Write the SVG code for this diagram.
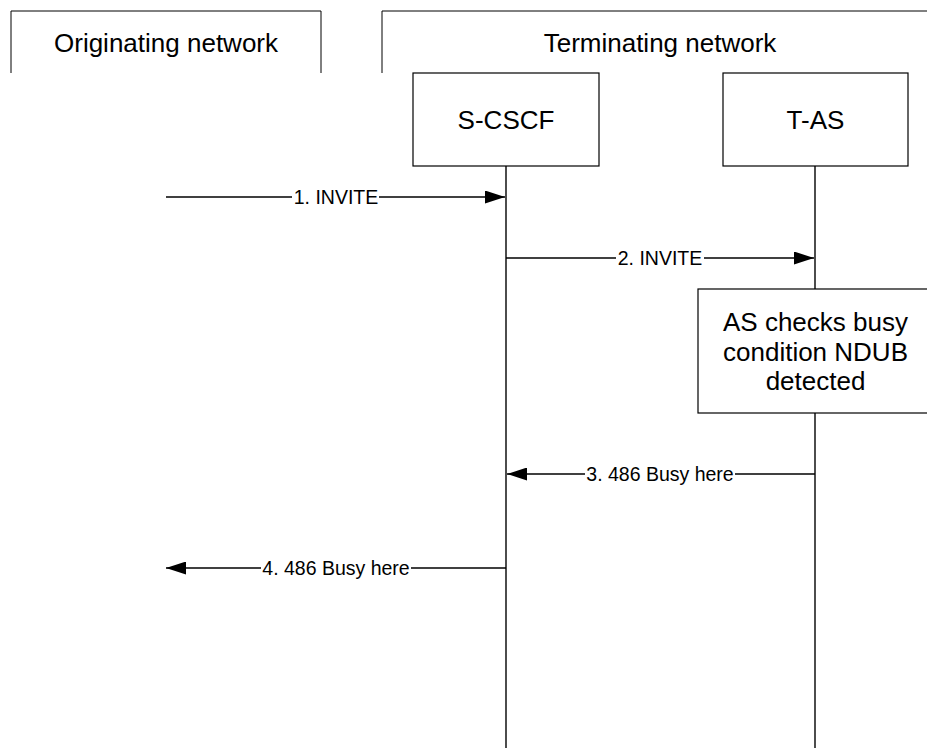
<svg xmlns="http://www.w3.org/2000/svg" width="927" height="748" viewBox="0 0 927 748">
  <defs>
    <style>
      .frame { fill: none; stroke: #000; stroke-width: 1; }
      .box { fill: #fff; stroke: #000; stroke-width: 1.2; }
      .life { stroke: #000; stroke-width: 1.4; }
      .msg { stroke: #000; stroke-width: 1.3; fill: none; }
      .big { font-family: "Liberation Sans", Arial, sans-serif; font-size: 26px; fill: #000; text-anchor: middle; }
      .lbl { font-family: "Liberation Sans", Arial, sans-serif; font-size: 19.5px; fill: #000; text-anchor: middle; }
      .mask { fill: #fff; }
    </style>
    <marker id="head" markerWidth="20" markerHeight="13" refX="20" refY="6.5" orient="auto" markerUnits="userSpaceOnUse">
      <path d="M0,0 L20,6.5 L0,13 Z" fill="#000"/>
    </marker>
  </defs>

  <rect width="927" height="748" fill="#fff"/>

  <!-- network frames (open at the bottom) -->
  <g id="originating-network">
    <path class="frame" d="M11,73 V11 H321 V73"/>
    <text class="big" x="166" y="52">Originating network</text>
  </g>
  <g id="terminating-network">
    <path class="frame" d="M382,73 V11 H930"/>
    <text class="big" x="660" y="52">Terminating network</text>
  </g>

  <!-- lifelines -->
  <g id="lifelines">
    <line class="life" x1="506" y1="166" x2="506" y2="748"/>
    <line class="life" x1="815" y1="166" x2="815" y2="748"/>
  </g>

  <g id="s-cscf">
    <rect class="box" x="413" y="73" width="186" height="93"/>
    <text class="big" x="506" y="129">S-CSCF</text>
  </g>
  <g id="t-as">
    <rect class="box" x="723" y="73" width="185" height="93"/>
    <text class="big" x="815.5" y="129">T-AS</text>
  </g>

  <g id="busy-check">
    <rect class="box" x="698" y="289" width="240" height="124"/>
    <text class="big" x="815.5" y="331">AS checks busy</text>
    <text class="big" x="815.5" y="360.5">condition NDUB</text>
    <text class="big" x="815.5" y="390">detected</text>
  </g>

  <!-- messages -->
  <g id="connectors">
    <line class="msg" x1="166" y1="197" x2="505" y2="197" marker-end="url(#head)"/>
    <rect class="mask" x="292" y="188" width="87" height="18"/>
    <text class="lbl" x="336" y="204">1. INVITE</text>

    <line class="msg" x1="506" y1="258" x2="814" y2="258" marker-end="url(#head)"/>
    <rect class="mask" x="616" y="249" width="88" height="18"/>
    <text class="lbl" x="660" y="265">2. INVITE</text>

    <line class="msg" x1="815" y1="474" x2="507" y2="474" marker-end="url(#head)"/>
    <rect class="mask" x="585" y="465" width="150" height="18"/>
    <text class="lbl" x="660" y="481">3. 486 Busy here</text>

    <line class="msg" x1="506" y1="568" x2="166" y2="568" marker-end="url(#head)"/>
    <rect class="mask" x="261" y="559" width="150" height="18"/>
    <text class="lbl" x="336" y="575">4. 486 Busy here</text>
  </g>
</svg>
